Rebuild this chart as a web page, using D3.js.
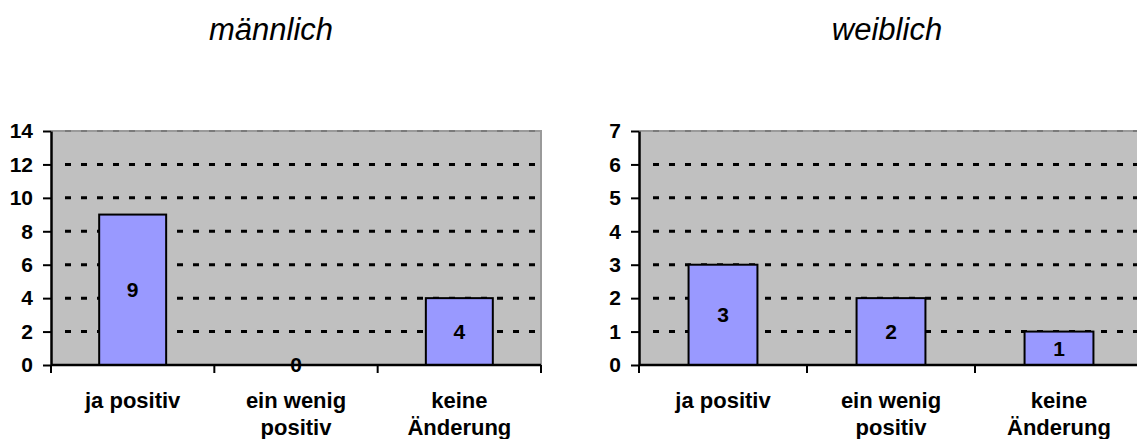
<!DOCTYPE html>
<html><head><meta charset="utf-8">
<script src="https://cdn.jsdelivr.net/npm/d3@7"></script>
<style>
body{margin:0;background:#fff;overflow:hidden}
svg{display:block}
text{font-family:Arial,"Liberation Sans",sans-serif;fill:#000}
</style></head><body>
<svg id="chart" width="1137" height="439"></svg>
<script>
// Survey answers split by gender
const categories = ["ja positiv", "ein wenig positiv", "keine Änderung"];
const categoryLines = [["ja positiv"], ["ein wenig", "positiv"], ["keine", "Änderung"]];
const maleValues = [9, 0, 4];
const femaleValues = [3, 2, 1];
const maleTicks = [0, 2, 4, 6, 8, 10, 12, 14];
const femaleTicks = [0, 1, 2, 3, 4, 5, 6, 7];
const titles = ["männlich", "weiblich"];

const svg = d3.select("#chart");
const TOP = 131, BOTTOM = 365;

function drawPanel(cfg) {
  const g = svg.append("g");
  const x = d3.scaleBand().domain(categories).range([cfg.x0, cfg.x1]).paddingInner(0).paddingOuter(0);
  const y = d3.scaleLinear().domain([0, d3.max(cfg.ticks)]).range([BOTTOM, TOP]);
  const bw = x.bandwidth();
  const barW = bw * 0.41;

  // plot background
  g.append("rect").attr("x", cfg.x0).attr("y", TOP)
    .attr("width", cfg.x1 - cfg.x0).attr("height", BOTTOM - TOP).attr("fill", "#c0c0c0");

  // plot border (top / right)
  g.append("path")
    .attr("d", `M${cfg.x0},${TOP}H${cfg.x1}V${BOTTOM}`)
    .attr("fill", "none").attr("stroke", "#9a9a9a").attr("stroke-width", 2);

  // dashed gridlines
  const top = d3.max(cfg.ticks);
  g.selectAll("line.grid").data(cfg.ticks.filter(t => t > 0)).join("line")
    .attr("class", "grid")
    .attr("x1", cfg.x0 + 14).attr("x2", cfg.x1)
    .attr("y1", d => y(d)).attr("y2", d => y(d))
    .attr("stroke", d => d === top ? "#7a7a7a" : "#000")
    .attr("stroke-width", d => d === top ? 2 : 3)
    .attr("stroke-dasharray", "6,10");

  // bars
  g.selectAll("rect.bar").data(cfg.values).join("rect")
    .attr("class", "bar")
    .attr("x", (d, i) => x(categories[i]) + bw / 2 - barW / 2)
    .attr("width", barW)
    .attr("y", d => y(d))
    .attr("height", d => BOTTOM - y(d))
    .attr("fill", "#9999ff")
    .attr("stroke", d => d > 0 ? "#000" : "none")
    .attr("stroke-width", 2);

  // y axis
  const ya = g.append("g").attr("transform", `translate(${cfg.x0},0)`)
    .call(d3.axisLeft(y).tickValues(cfg.ticks).tickFormat(d3.format("d"))
      .tickSize(8).tickSizeOuter(0).tickPadding(10));
  ya.select(".domain").attr("stroke", "#000").attr("stroke-width", 2.5);
  ya.selectAll(".tick line").attr("stroke", "#000").attr("stroke-width", 2);
  ya.selectAll(".tick text").attr("font-size", 21).attr("font-weight", "bold")
    .attr("font-family", "Arial, 'Liberation Sans', sans-serif").attr("fill", "#000");

  // x axis with ticks at category boundaries
  g.append("line").attr("x1", cfg.x0).attr("x2", cfg.x1)
    .attr("y1", BOTTOM).attr("y2", BOTTOM).attr("stroke", "#000").attr("stroke-width", 2.5);
  const bounds = categories.map(c => x(c)).concat([cfg.x1]);
  g.selectAll("line.xt").data(bounds).join("line")
    .attr("class", "xt")
    .attr("x1", d => d).attr("x2", d => d)
    .attr("y1", BOTTOM).attr("y2", BOTTOM + 8)
    .attr("stroke", "#000").attr("stroke-width", 2);

  // category labels
  const lbl = g.selectAll("text.cat").data(categories).join("text")
    .attr("class", "cat")
    .attr("x", d => x(d) + bw / 2)
    .attr("y", 408)
    .attr("text-anchor", "middle")
    .attr("font-size", 22).attr("font-weight", "bold");
  lbl.selectAll("tspan").data((d, i) => categoryLines[i]).join("tspan")
    .attr("x", function () { return this.parentNode.getAttribute("x"); })
    .attr("dy", (d, j) => j === 0 ? 0 : 27)
    .text(d => d);

  // value labels
  g.selectAll("text.val").data(cfg.values).join("text")
    .attr("class", "val")
    .attr("x", (d, i) => x(categories[i]) + bw / 2)
    .attr("y", d => (y(d) + BOTTOM) / 2)
    .attr("dy", "0.35em")
    .attr("text-anchor", "middle")
    .attr("font-size", 21).attr("font-weight", "bold")
    .text(d => d);

  // panel title
  g.append("text").attr("x", cfg.titleX).attr("y", 40)
    .attr("text-anchor", "middle")
    .attr("font-size", 31).attr("font-style", "italic")
    .text(cfg.title);
}

drawPanel({x0: 51, x1: 541, values: maleValues, ticks: maleTicks, title: titles[0], titleX: 271});
drawPanel({x0: 639, x1: 1143, values: femaleValues, ticks: femaleTicks, title: titles[1], titleX: 887});
</script>
</body></html>
